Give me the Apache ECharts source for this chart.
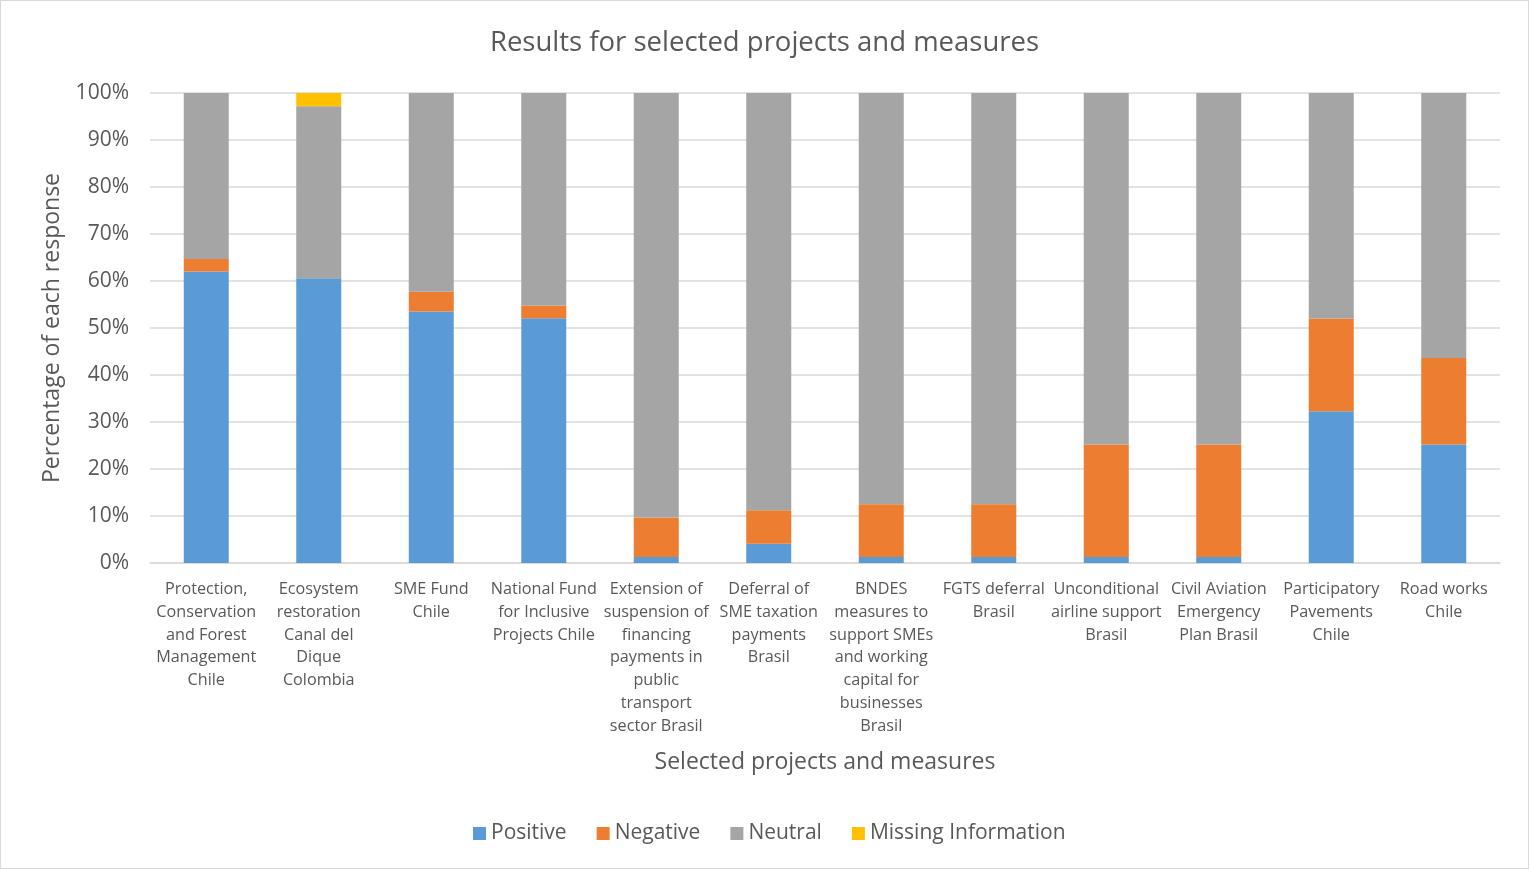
<!DOCTYPE html>
<html>
<head>
<meta charset="utf-8">
<script src="https://cdn.jsdelivr.net/npm/echarts@6/dist/echarts.min.js"></script>
<style>
  html, body { margin: 0; padding: 0; background: #fff; }
  #chart { width: 1527px; height: 867px; border: 1px solid #d9d9d9; }
</style>
</head>
<body>
<div id="chart"></div>
<script>
// Projects / measures evaluated (line breaks as displayed under each bar)
const categories = [
  'Protection,\nConservation\nand Forest\nManagement\nChile',
  'Ecosystem\nrestoration\nCanal del\nDique\nColombia',
  'SME Fund\nChile',
  'National Fund\nfor Inclusive\nProjects Chile',
  'Extension of\nsuspension of\nfinancing\npayments in\npublic\ntransport\nsector Brasil',
  'Deferral of\nSME taxation\npayments\nBrasil',
  'BNDES\nmeasures to\nsupport SMEs\nand working\ncapital for\nbusinesses\nBrasil',
  'FGTS deferral\nBrasil',
  'Unconditional\nairline support\nBrasil',
  'Civil Aviation\nEmergency\nPlan Brasil',
  'Participatory\nPavements\nChile',
  'Road works\nChile'
];

// Share of responses (%) per category
const positive = [62.0, 60.6, 53.5, 52.1, 1.3, 4.1, 1.3, 1.3, 1.3, 1.3, 32.3, 25.2];
const negative = [2.7, 0, 4.2, 2.7, 8.4, 7.1, 11.2, 11.2, 23.9, 23.9, 19.7, 18.4];
const neutral  = [35.3, 36.6, 42.3, 45.2, 90.3, 88.8, 87.5, 87.5, 74.8, 74.8, 48.0, 56.4];
const missing  = [0, 2.8, 0, 0, 0, 0, 0, 0, 0, 0, 0, 0];

const yTicks = [0, 10, 20, 30, 40, 50, 60, 70, 80, 90, 100];

const font = '"Open Sans", "DejaVu Sans", sans-serif';
const textColor = '#595959';

const chart = echarts.init(document.getElementById('chart'));

function barSeries(name, data, color) {
  return {
    name: name,
    type: 'bar',
    stack: 'total',
    barWidth: '40%',
    data: data,
    itemStyle: { color: color },
    emphasis: { disabled: true }
  };
}

chart.setOption({
  animation: false,
  textStyle: { fontFamily: font },
  title: {
    text: 'Results for selected projects and measures',
    left: 'center',
    top: 23,
    textStyle: { fontFamily: font, fontSize: 27.5, fontWeight: 'normal', color: textColor }
  },
  grid: { left: 149, right: 28, top: 92, bottom: 305, containLabel: false },
  legend: {
    bottom: 19,
    left: 467,
    itemWidth: 13,
    itemHeight: 13,
    itemGap: 30,
    icon: 'rect',
    textStyle: { fontFamily: font, fontSize: 21, color: textColor },
    data: ['Positive', 'Negative', 'Neutral', 'Missing Information']
  },
  xAxis: {
    type: 'category',
    data: categories,
    name: 'Selected projects and measures',
    nameLocation: 'middle',
    nameGap: 188,
    nameTextStyle: { fontFamily: font, fontSize: 23, color: textColor },
    axisLine: { lineStyle: { color: '#d9d9d9', width: 1.5 } },
    axisTick: { show: false },
    axisLabel: {
      interval: 0,
      margin: 15,
      fontFamily: font,
      fontSize: 16.2,
      lineHeight: 22.8,
      color: textColor,
      align: 'center'
    }
  },
  yAxis: {
    type: 'value',
    min: 0,
    max: 100,
    interval: 10,
    name: 'Percentage of each response',
    nameLocation: 'middle',
    nameGap: 86,
    nameRotate: 90,
    nameTextStyle: { fontFamily: font, fontSize: 23, color: textColor },
    axisLine: { show: false },
    axisTick: { show: false },
    splitLine: { lineStyle: { color: '#d9d9d9', width: 1.5 } },
    axisLabel: {
      margin: 21,
      fontFamily: font,
      fontSize: 21,
      color: textColor,
      formatter: function (v) { return yTicks.indexOf(v) >= 0 ? v + '%' : ''; }
    }
  },
  series: [
    barSeries('Positive', positive, '#5b9bd5'),
    barSeries('Negative', negative, '#ed7d31'),
    barSeries('Neutral', neutral, '#a5a5a5'),
    barSeries('Missing Information', missing, '#ffc000')
  ]
});
</script>
</body>
</html>
